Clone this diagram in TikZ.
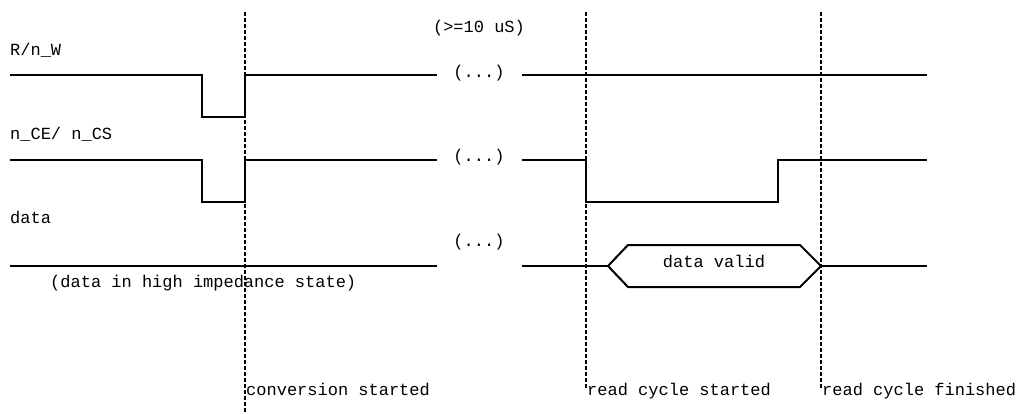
\documentclass[tikz,border=0pt]{standalone}
\usepackage{fontspec}
\setmonofont{Liberation Mono}
\usetikzlibrary{positioning}

\begin{document}
\begin{tikzpicture}[x=1pt, y=-1pt,
    sig/.style={line width=2pt, line join=miter},
    marker/.style={line width=2pt, dash pattern=on 3.5pt off 2.5pt},
    lbl/.style={anchor=base west, inner sep=0pt, font=\ttfamily\fontsize{17}{20}\selectfont}]
    \useasboundingbox (0,0) rectangle (1018,413);

    % time markers
    \coordinate (convtop) at (245,12);
    \coordinate (convbot) at (245,413);
    \coordinate (readtop) at (586,12);
    \coordinate (readbot) at (586,389);
    \coordinate (fintop) at (821,12);
    \coordinate (finbot) at (821,389);
    \draw[marker] (convtop) -- (convbot);
    \draw[marker] (readtop) -- (readbot);
    \draw[marker] (fintop) -- (finbot);

    % signal names
    \node[lbl] (rnw) at (10,55) {R/n\_W};
    \node[lbl] (nce) at (10,139) {n\_CE/ n\_CS};
    \node[lbl] (data) at (10,223) {data};
    \node[lbl] (hiz) at (50,287) {(data in high impedance state)};

    % R/n_W
    \draw[sig] (10,75) -- (202,75) -- (202,117) -- (245,117) -- (245,75) -- (437,75);
    \draw[sig] (522,75) -- (927,75);

    % n_CE / n_CS
    \draw[sig] (10,160) -- (202,160) -- (202,202) -- (245,202) -- (245,160) -- (437,160);
    \draw[sig] (522,160) -- (586,160) -- (586,202) -- (778,202) -- (778,160) -- (927,160);

    % data
    \draw[sig] (10,266) -- (437,266);
    \draw[sig] (522,266) -- (608,266);
    \draw[sig] (608,266) -- (628,245) -- (800,245) -- (821,266) -- (800,287) -- (628,287) -- cycle;
    \draw[sig] (821,266) -- (927,266);
    \node[lbl, anchor=base] (valid) at (714,267) {data valid};

    % skipped time
    \node[lbl, anchor=base] (wait) at (479,32) {(>=10 uS)};
    \node[lbl, anchor=base] (gap1) at (479,77) {(...)};
    \node[lbl, anchor=base] (gap2) at (479,161) {(...)};
    \node[lbl, anchor=base] (gap3) at (479,246) {(...)};

    % marker labels
    \node[lbl] (conv) at (246,395) {conversion started};
    \node[lbl] (read) at (587,395) {read cycle started};
    \node[lbl] (fin) at (822,395) {read cycle finished};
\end{tikzpicture}
\end{document}
